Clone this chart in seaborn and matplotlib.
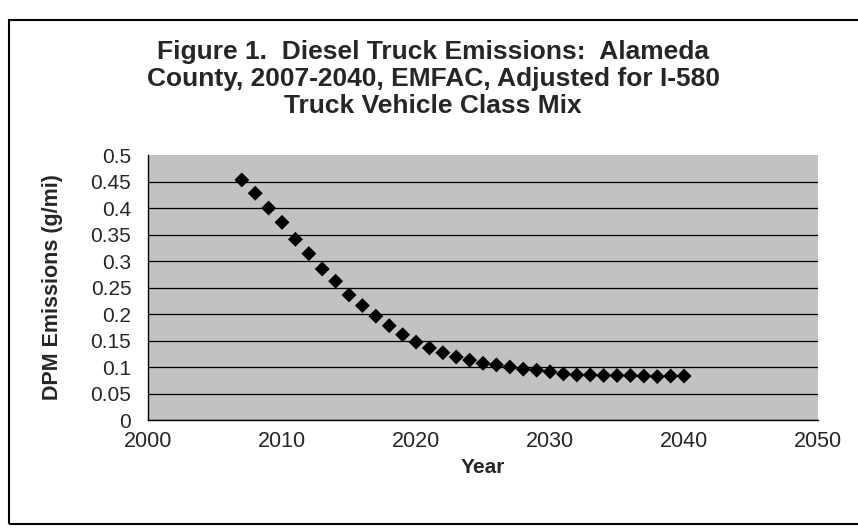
import pandas as pd
import seaborn as sns
import matplotlib.pyplot as plt
from matplotlib.patches import Rectangle

## Data
years = [2007, 2008, 2009, 2010, 2011, 2012, 2013, 2014, 2015, 2016, 2017, 2018,
         2019, 2020, 2021, 2022, 2023, 2024, 2025, 2026, 2027, 2028, 2029, 2030,
         2031, 2032, 2033, 2034, 2035, 2036, 2037, 2038, 2039, 2040]
dpm = [0.453, 0.428, 0.400, 0.373, 0.341, 0.314, 0.285, 0.262, 0.236, 0.216,
       0.196, 0.178, 0.161, 0.147, 0.136, 0.127, 0.119, 0.113, 0.107, 0.104,
       0.100, 0.096, 0.094, 0.091, 0.087, 0.085, 0.085, 0.084, 0.084, 0.084,
       0.083, 0.082, 0.083, 0.083]
x_ticks = [2000, 2010, 2020, 2030, 2040, 2050]
y_ticks = [0, 0.05, 0.1, 0.15, 0.2, 0.25, 0.3, 0.35, 0.4, 0.45, 0.5]
y_labels = ['0', '0.05', '0.1', '0.15', '0.2', '0.25', '0.3', '0.35', '0.4', '0.45', '0.5']

df = pd.DataFrame({'Year': years, 'DPM': dpm})

## Plot
sns.set_style('white')
plt.rcParams['font.family'] = ['Liberation Sans', 'DejaVu Sans']

fig = plt.figure(figsize=(8.58, 5.31), dpi=100)
ax = fig.add_axes([0.1725, 0.209, 0.781, 0.499])

sns.scatterplot(data=df, x='Year', y='DPM', marker='D', color='black',
                s=58, edgecolor='none', ax=ax, zorder=3)

ax.set_facecolor('#c2c2c2')
ax.set_xlim(2000, 2050)
ax.set_ylim(0, 0.5)
ax.set_xticks(x_ticks)
ax.set_yticks(y_ticks)
ax.set_yticklabels(y_labels)
ax.grid(axis='y', color='black', linewidth=0.9)
ax.grid(axis='x', visible=False)
ax.get_ygridlines()[-1].set_visible(False)
for s in ['top', 'right']:
    ax.spines[s].set_visible(False)
for s in ['left', 'bottom']:
    ax.spines[s].set_color('black')
    ax.spines[s].set_linewidth(1.0)
ax.tick_params(axis='x', direction='out', length=6, color='black', labelsize=15.5, pad=2)
ax.tick_params(axis='y', direction='out', length=7, color='black', labelsize=15, pad=5)
ax.set_axisbelow(True)

ax.set_xlabel('Year', fontsize=15, fontweight='bold', labelpad=4)
ax.set_ylabel('DPM Emissions (g/mi)', fontsize=15.5, fontweight='bold', labelpad=20)

fig.text(0.505, 0.851, 'Figure 1.  Diesel Truck Emissions:  Alameda\n'
         'County, 2007-2040, EMFAC, Adjusted for I-580\n'
         'Truck Vehicle Class Mix',
         ha='center', va='center', fontsize=19, fontweight='bold', linespacing=1.16)

## outer chart frame
fig.patches.append(Rectangle((0.011, 0.013), 0.995, 0.95, transform=fig.transFigure,
                             fill=False, edgecolor='black', linewidth=1.5))

fig.savefig('out.png', dpi=100)
